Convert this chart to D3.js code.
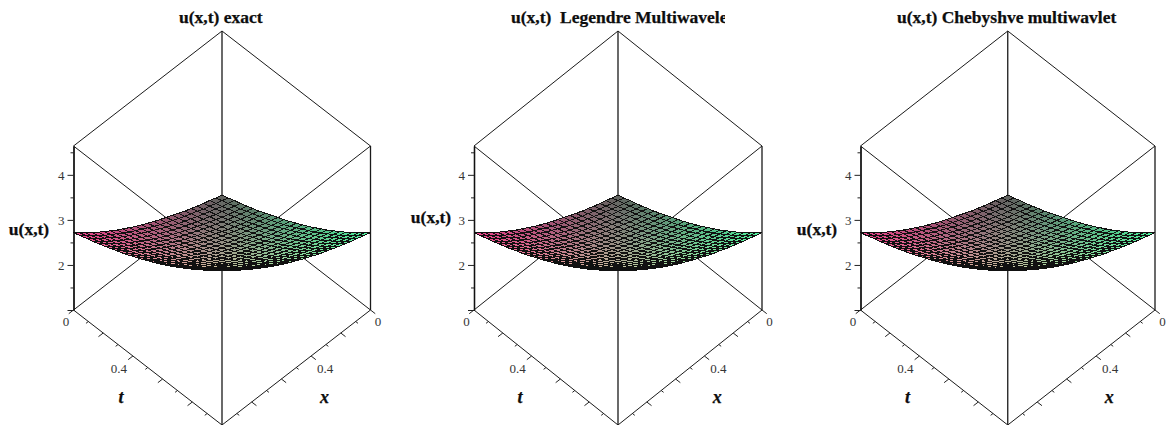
<!DOCTYPE html>
<html>
<head>
<meta charset="utf-8">
<script src="https://cdn.jsdelivr.net/npm/d3@7"></script>
<style>
    html, body { margin: 0; padding: 0; background: #fff; overflow: hidden; }
    text { font-family: 'Liberation Serif', serif; white-space: pre; }
    .tick-label { font-size: 13px; fill: #333; opacity: 0.99; }
    .chart-title { font-size: 17.5px; font-weight: bold; fill: #0d0d0d; stroke: #0d0d0d; stroke-width: 0.25; }
    .z-title { font-size: 17.5px; font-weight: bold; fill: #0d0d0d; stroke: #0d0d0d; stroke-width: 0.25; }
    .axis-letter { font-size: 18px; font-weight: bold; font-style: italic; fill: #0d0d0d; stroke: #0d0d0d; stroke-width: 0.25; }
</style>
</head>
<body>
<svg id="chart" width="1169" height="425"></svg>
<script>
var chartTitles = [ 'u(x,t) exact', 'u(x,t)  Legendre Multiwavelet', 'u(x,t) Chebyshve multiwavlet' ],
    zLabel      = 'u(x,t)',
    xLabel      = 'x',
    tLabel      = 't',

    zDomain     = [ 1, 4.64 ],
    zMajorTicks = [ 1, 2, 3, 4 ],
    zMinorTicks = [ 1.5, 2.5, 3.5, 4.5 ],
    zLabelled   = [ 2, 3, 4 ],
    xyMajorTicks = [ 0, 0.2, 0.4, 0.6, 0.8 ],
    xyMinorTicks = [ 0.1, 0.3, 0.5, 0.7, 0.9 ],
    xyLabelled   = [ 0, 0.4 ],

    // sample positions of the mesh, same along x and along t
    samples = [ 0, 0.042, 0.083, 0.125, 0.167, 0.208, 0.25, 0.292, 0.333, 0.375, 0.417, 0.458, 0.5,
                0.542, 0.583, 0.625, 0.667, 0.708, 0.75, 0.792, 0.833, 0.875, 0.917, 0.958, 1 ],

    // surface height: one row per t sample, one column per x sample
    surface = [
        [ 1.00,1.04,1.09,1.13,1.18,1.23,1.28,1.34,1.40,1.46,1.52,1.58,1.65,1.72,1.79,1.87,1.95,2.03,2.12,2.21,2.30,2.40,2.50,2.61,2.72 ],
        [ 1.04,1.09,1.13,1.18,1.22,1.28,1.33,1.38,1.44,1.50,1.56,1.62,1.69,1.76,1.84,1.91,1.99,2.07,2.16,2.25,2.34,2.44,2.54,2.65,2.76 ],
        [ 1.09,1.13,1.17,1.22,1.27,1.32,1.37,1.43,1.48,1.54,1.60,1.67,1.74,1.81,1.88,1.96,2.04,2.12,2.20,2.29,2.39,2.49,2.59,2.69,2.81 ],
        [ 1.13,1.18,1.22,1.27,1.31,1.37,1.42,1.47,1.53,1.59,1.65,1.71,1.78,1.85,1.93,2.00,2.08,2.16,2.25,2.34,2.43,2.53,2.63,2.74,2.85 ],
        [ 1.18,1.22,1.27,1.31,1.36,1.41,1.47,1.52,1.58,1.64,1.70,1.76,1.83,1.90,1.97,2.05,2.13,2.21,2.30,2.39,2.48,2.58,2.68,2.79,2.90 ],
        [ 1.23,1.28,1.32,1.37,1.41,1.46,1.52,1.57,1.63,1.69,1.75,1.81,1.88,1.95,2.02,2.10,2.18,2.26,2.35,2.44,2.53,2.63,2.73,2.84,2.95 ],
        [ 1.28,1.33,1.37,1.42,1.47,1.52,1.57,1.62,1.68,1.74,1.80,1.87,1.93,2.00,2.08,2.15,2.23,2.32,2.40,2.49,2.59,2.68,2.79,2.89,3.00 ],
        [ 1.34,1.38,1.43,1.47,1.52,1.57,1.62,1.68,1.74,1.79,1.86,1.92,1.99,2.06,2.13,2.21,2.29,2.37,2.46,2.55,2.64,2.74,2.84,2.95,3.06 ],
        [ 1.40,1.44,1.48,1.53,1.58,1.63,1.68,1.74,1.79,1.85,1.91,1.98,2.05,2.12,2.19,2.26,2.34,2.43,2.51,2.60,2.70,2.80,2.90,3.00,3.11 ],
        [ 1.46,1.50,1.54,1.59,1.64,1.69,1.74,1.79,1.85,1.91,1.97,2.04,2.10,2.17,2.25,2.32,2.40,2.49,2.57,2.66,2.76,2.85,2.96,3.06,3.17 ],
        [ 1.52,1.56,1.60,1.65,1.70,1.75,1.80,1.86,1.91,1.97,2.03,2.10,2.17,2.24,2.31,2.39,2.47,2.55,2.63,2.72,2.82,2.92,3.02,3.12,3.24 ],
        [ 1.58,1.62,1.67,1.71,1.76,1.81,1.87,1.92,1.98,2.04,2.10,2.16,2.23,2.30,2.37,2.45,2.53,2.61,2.70,2.79,2.88,2.98,3.08,3.19,3.30 ],
        [ 1.65,1.69,1.74,1.78,1.83,1.88,1.93,1.99,2.05,2.10,2.17,2.23,2.30,2.37,2.44,2.52,2.60,2.68,2.77,2.86,2.95,3.05,3.15,3.26,3.37 ],
        [ 1.72,1.76,1.81,1.85,1.90,1.95,2.00,2.06,2.12,2.17,2.24,2.30,2.37,2.44,2.51,2.59,2.67,2.75,2.84,2.93,3.02,3.12,3.22,3.33,3.44 ],
        [ 1.79,1.84,1.88,1.93,1.97,2.02,2.08,2.13,2.19,2.25,2.31,2.37,2.44,2.51,2.58,2.66,2.74,2.82,2.91,3.00,3.09,3.19,3.29,3.40,3.51 ],
        [ 1.87,1.91,1.96,2.00,2.05,2.10,2.15,2.21,2.26,2.32,2.39,2.45,2.52,2.59,2.66,2.74,2.82,2.90,2.99,3.08,3.17,3.27,3.37,3.48,3.59 ],
        [ 1.95,1.99,2.04,2.08,2.13,2.18,2.23,2.29,2.34,2.40,2.47,2.53,2.60,2.67,2.74,2.82,2.90,2.98,3.07,3.16,3.25,3.35,3.45,3.56,3.67 ],
        [ 2.03,2.07,2.12,2.16,2.21,2.26,2.32,2.37,2.43,2.49,2.55,2.61,2.68,2.75,2.82,2.90,2.98,3.06,3.15,3.24,3.33,3.43,3.53,3.64,3.75 ],
        [ 2.12,2.16,2.20,2.25,2.30,2.35,2.40,2.46,2.51,2.57,2.63,2.70,2.77,2.84,2.91,2.99,3.07,3.15,3.23,3.32,3.42,3.52,3.62,3.72,3.84 ],
        [ 2.21,2.25,2.29,2.34,2.39,2.44,2.49,2.55,2.60,2.66,2.72,2.79,2.86,2.93,3.00,3.08,3.16,3.24,3.32,3.41,3.51,3.61,3.71,3.81,3.93 ],
        [ 2.30,2.34,2.39,2.43,2.48,2.53,2.59,2.64,2.70,2.76,2.82,2.88,2.95,3.02,3.09,3.17,3.25,3.33,3.42,3.51,3.60,3.70,3.80,3.91,4.02 ],
        [ 2.40,2.44,2.49,2.53,2.58,2.63,2.68,2.74,2.80,2.85,2.92,2.98,3.05,3.12,3.19,3.27,3.35,3.43,3.52,3.61,3.70,3.80,3.90,4.01,4.12 ],
        [ 2.50,2.54,2.59,2.63,2.68,2.73,2.79,2.84,2.90,2.96,3.02,3.08,3.15,3.22,3.29,3.37,3.45,3.53,3.62,3.71,3.80,3.90,4.00,4.11,4.22 ],
        [ 2.61,2.65,2.69,2.74,2.79,2.84,2.89,2.95,3.00,3.06,3.12,3.19,3.26,3.33,3.40,3.48,3.56,3.64,3.72,3.81,3.91,4.01,4.11,4.21,4.33 ],
        [ 2.72,2.76,2.81,2.85,2.90,2.95,3.00,3.06,3.11,3.17,3.24,3.30,3.37,3.44,3.51,3.59,3.67,3.75,3.84,3.93,4.02,4.12,4.22,4.33,4.44 ]
    ],

    // where each of the three plots sits on the page
    panels = [
        { left : 73.5,  right : 370.5,  titleX : 179, titleClip : 1169, zLabelX : 29,  zLabelY : 230 },
        { left : 474,   right : 762,    titleX : 511, titleClip : 725,  zLabelX : 431, zLabelY : 218 },
        { left : 860.5, right : 1155,   titleX : 897, titleClip : 1169, zLabelX : 817, zLabelY : 230 }
    ],

    // mesh colour at the four corners of the (x,t) square
    colourBack  = '#5f625e',
    colourLeft  = '#f0408c',
    colourRight = '#4cf09c',
    colourFront = '#ece4ac',

    svg = d3.select( '#chart' );

svg.append( 'defs' )
    .selectAll( 'clipPath' )
    .data( panels )
    .enter().append( 'clipPath' )
    .attr( 'id', function( d, i ) { return 'title-clip-' + i; } )
    .append( 'rect' )
    .attr( 'x', 0 )
    .attr( 'y', 0 )
    .attr( 'width', function( d ) { return d.titleClip; } )
    .attr( 'height', 40 );

panels.forEach( drawPanel );

function meshColour( x, t ) {
    var nearEdge = d3.interpolateRgb( colourBack, colourLeft )( x ),
        farEdge  = d3.interpolateRgb( colourRight, colourFront )( x );

    return d3.interpolateRgb( nearEdge, farEdge )( t );
}

function drawPanel( panel, index ) {
    var top    = 31,
        back   = 195,
        bottom = 425,
        zBase  = 310,
        zTop   = 146,

        g = svg.append( 'g' ),

        // screen x depends on t - x, screen y on x + t, then height lifts it
        across = d3.scaleLinear().domain( [ -1, 1 ] ).range( [ panel.left, panel.right ] ),
        depth  = d3.scaleLinear().domain( [ 0, 2 ] ).range( [ back, bottom ] ),
        lift   = d3.scaleLinear().domain( zDomain ).range( [ 0, zTop - zBase ] ),
        zAxisScale = d3.scaleLinear().domain( zDomain ).range( [ zBase, zTop ] ),

        project = function( x, t, z ) {
            return [ across( t - x ), depth( x + t ) + lift( z ) ];
        },
        edge = function( from, to, width ) {
            g.append( 'line' )
                .attr( 'x1', from[ 0 ] ).attr( 'y1', from[ 1 ] )
                .attr( 'x2', to[ 0 ] ).attr( 'y2', to[ 1 ] )
                .attr( 'stroke', '#1a1a1a' )
                .attr( 'stroke-width', width || 1 );
        },
        zMin = zDomain[ 0 ],
        zMax = zDomain[ 1 ],
        cells = [],
        i, j;

    // bounding box
    edge( project( 0, 0, zMax ), project( 1, 0, zMax ) );
    edge( project( 0, 0, zMax ), project( 0, 1, zMax ) );
    edge( project( 1, 1, zMax ), project( 1, 0, zMax ) );
    edge( project( 1, 1, zMax ), project( 0, 1, zMax ) );
    edge( project( 0, 0, zMin ), project( 1, 0, zMin ) );
    edge( project( 0, 0, zMin ), project( 0, 1, zMin ) );
    edge( project( 1, 1, zMin ), project( 1, 0, zMin ) );
    edge( project( 1, 1, zMin ), project( 0, 1, zMin ) );
    edge( [ across( 0 ), top ], [ across( 0 ), bottom ], 1.3 );

    // painter's order: back corner first, front corner last
    for ( j = 0; j < samples.length - 1; j++ ) {
        for ( i = 0; i < samples.length - 1; i++ ) {
            cells.push( { i : i, j : j } );
        }
    }
    cells.sort( function( a, b ) { return ( a.i + a.j ) - ( b.i + b.j ); } );

    // aliased mesh lines give the hard dark lattice of the original raster
    g.selectAll( '.cell' )
        .data( cells )
        .enter().append( 'path' )
        .attr( 'class', 'cell' )
        .attr( 'd', function( c ) {
            return d3.line()( [
                project( samples[ c.i ],     samples[ c.j ],     surface[ c.j ][ c.i ] ),
                project( samples[ c.i + 1 ], samples[ c.j ],     surface[ c.j ][ c.i + 1 ] ),
                project( samples[ c.i + 1 ], samples[ c.j + 1 ], surface[ c.j + 1 ][ c.i + 1 ] ),
                project( samples[ c.i ],     samples[ c.j + 1 ], surface[ c.j + 1 ][ c.i ] )
            ] ) + 'Z';
        } )
        .attr( 'fill', function( c ) {
            return meshColour( ( samples[ c.i ] + samples[ c.i + 1 ] ) / 2, ( samples[ c.j ] + samples[ c.j + 1 ] ) / 2 );
        } )
        .attr( 'stroke', '#111' )
        .attr( 'stroke-width', 1 )
        .attr( 'shape-rendering', 'crispEdges' );

    // height axis on the left edge
    g.append( 'g' )
        .attr( 'transform', 'translate(' + panel.left + ',0)' )
        .call( d3.axisLeft( zAxisScale ).tickValues( zMinorTicks ).tickSize( 3 ).tickSizeOuter( 0 ).tickFormat( '' ) );

    g.append( 'g' )
        .attr( 'class', 'z-axis' )
        .attr( 'transform', 'translate(' + panel.left + ',0)' )
        .call( d3.axisLeft( zAxisScale )
            .tickValues( zMajorTicks )
            .tickSize( 6 )
            .tickSizeOuter( 0 )
            .tickPadding( 3 )
            .tickFormat( function( d ) { return zLabelled.indexOf( d ) > -1 ? d : ''; } ) );

    g.selectAll( '.domain' ).attr( 'stroke', '#111' ).attr( 'stroke-width', 1.3 );
    g.selectAll( '.tick line' ).attr( 'stroke', '#222' ).attr( 'stroke-width', 1 );
    g.selectAll( '.z-axis text' ).attr( 'class', 'tick-label' ).attr( 'font-size', null ).attr( 'font-family', null );

    // right-hand vertical edge goes over the surface corner
    edge( project( 0, 1, zMin ), project( 0, 1, zMax ), 1.3 );

    // t axis runs from the left corner, x axis from the right corner
    drawFloorTicks( g, xyMajorTicks, 6, project, zMin );
    drawFloorTicks( g, xyMinorTicks, 3, project, zMin );

    g.selectAll( '.t-label' )
        .data( xyLabelled )
        .enter().append( 'text' )
        .attr( 'class', 'tick-label t-label' )
        .attr( 'text-anchor', 'middle' )
        .attr( 'x', function( d ) { return project( 1, d, zMin )[ 0 ] + ( d ? -14 : -7.5 ); } )
        .attr( 'y', function( d ) { return project( 1, d, zMin )[ 1 ] + ( d ? 17 : 16 ); } )
        .text( function( d ) { return d; } );

    g.selectAll( '.x-label' )
        .data( xyLabelled )
        .enter().append( 'text' )
        .attr( 'class', 'tick-label x-label' )
        .attr( 'text-anchor', 'middle' )
        .attr( 'x', function( d ) { return project( d, 1, zMin )[ 0 ] + ( d ? 14 : 7.5 ); } )
        .attr( 'y', function( d ) { return project( d, 1, zMin )[ 1 ] + ( d ? 17 : 16 ); } )
        .text( function( d ) { return d; } );

    g.append( 'text' )
        .attr( 'class', 'axis-letter' )
        .attr( 'text-anchor', 'middle' )
        .attr( 'x', across( 0 ) - ( panel.right - panel.left ) * 0.34 )
        .attr( 'y', 403 )
        .text( tLabel );

    g.append( 'text' )
        .attr( 'class', 'axis-letter' )
        .attr( 'text-anchor', 'middle' )
        .attr( 'x', across( 0 ) + ( panel.right - panel.left ) * 0.345 )
        .attr( 'y', 403 )
        .text( xLabel );

    g.append( 'text' )
        .attr( 'class', 'z-title' )
        .attr( 'text-anchor', 'middle' )
        .attr( 'x', panel.zLabelX )
        .attr( 'y', panel.zLabelY + 5 )
        .text( zLabel );

    g.append( 'text' )
        .attr( 'class', 'chart-title' )
        .attr( 'clip-path', 'url(#title-clip-' + index + ')' )
        .attr( 'x', panel.titleX )
        .attr( 'y', 23 )
        .text( chartTitles[ index ] );
}

function drawFloorTicks( g, ticks, length, project, zMin ) {
    var unitX = 0.79,
        unitY = 0.61;

    g.selectAll( null )
        .data( ticks )
        .enter().append( 'line' )
        .attr( 'x1', function( d ) { return project( 1, d, zMin )[ 0 ]; } )
        .attr( 'y1', function( d ) { return project( 1, d, zMin )[ 1 ]; } )
        .attr( 'x2', function( d ) { return project( 1, d, zMin )[ 0 ] - length * unitX; } )
        .attr( 'y2', function( d ) { return project( 1, d, zMin )[ 1 ] + length * unitY; } )
        .attr( 'stroke', '#222' );

    g.selectAll( null )
        .data( ticks )
        .enter().append( 'line' )
        .attr( 'x1', function( d ) { return project( d, 1, zMin )[ 0 ]; } )
        .attr( 'y1', function( d ) { return project( d, 1, zMin )[ 1 ]; } )
        .attr( 'x2', function( d ) { return project( d, 1, zMin )[ 0 ] + length * unitX; } )
        .attr( 'y2', function( d ) { return project( d, 1, zMin )[ 1 ] + length * unitY; } )
        .attr( 'stroke', '#222' );
}
</script>
</body>
</html>
